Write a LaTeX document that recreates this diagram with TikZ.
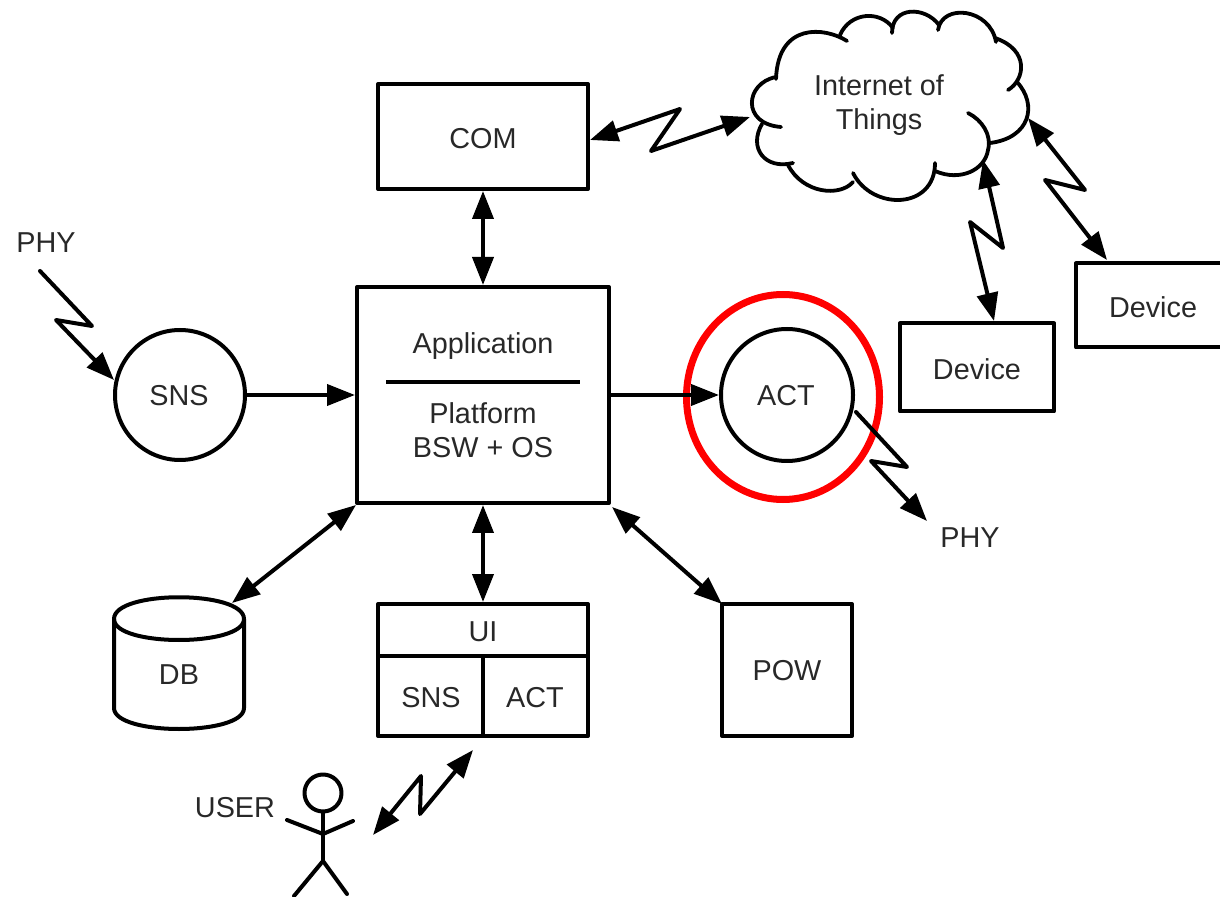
\documentclass[tikz,border=0pt]{standalone}
\usepackage{fontspec}
\setmainfont{Liberation Sans}
\usetikzlibrary{arrows.meta,shapes.geometric}
\definecolor{txt}{RGB}{40,40,40}
\tikzset{
  x=0.5pt,y=-0.5pt,
  ln/.style={line width=2pt,line join=round,line cap=round},
  bx/.style={draw,ln,line cap=butt,minimum width=0pt,inner sep=0pt},
  lab/.style={font=\fontsize{14.4pt}{17pt}\selectfont,text=txt,align=center,inner sep=0pt},
  both/.style={ln,{Triangle[length=14pt,width=10.5pt]}-{Triangle[length=14pt,width=10.5pt]}},
  one/.style={ln,-{Triangle[length=14pt,width=10.5pt]}},
  cloudln/.style={line width=1.9pt,line cap=round}
}
\begin{document}
\begin{tikzpicture}
\useasboundingbox (0,0) rectangle (1220,897);
% boxes
\node[bx,minimum width=105pt,minimum height=52.5pt] (com) at (483,136.5) {};
\node[lab] at (483,139) {COM};
\node[bx,minimum width=126pt,minimum height=108pt] (app) at (483,395) {};
\node[lab] at (483,346.5) {Application};
\node[lab] at (483,430) {Platform\\BSW + OS};
\coordinate (barL) at (386,382); \coordinate (barR) at (580,382);
\draw[ln,line cap=butt] (barL) -- (barR);
\node[bx,circle,minimum size=65pt] (sns) at (180,395) {};
\node[lab] at (179,396) {SNS};
\node[bx,circle,minimum size=66pt] (act) at (787,395) {};
\node[lab] at (786,396) {ACT};
\node[draw=red,line width=3.5pt,ellipse,minimum width=96.5pt,minimum height=102.5pt,inner sep=0pt] (ring) at (783,397) {};
\node[bx,minimum width=77pt,minimum height=44pt] (dev1) at (977,367.5) {};
\node[lab] at (977,369) {Device};
\node[bx,minimum width=77pt,minimum height=42pt] (dev2) at (1153,305.5) {};
\node[lab] at (1153,307) {Device};
\node[bx,minimum width=65pt,minimum height=66pt] (pow) at (787,670) {};
\node[lab] at (787,671) {POW};
\node[bx,minimum width=105pt,minimum height=66pt] (ui) at (483,670) {};
\coordinate (uiL) at (378,656); \coordinate (uiR) at (588,656);
\coordinate (uiM) at (483,656); \coordinate (uiB) at (483,736);
\draw[ln,line cap=butt] (uiL) -- (uiR);
\draw[ln,line cap=butt] (uiM) -- (uiB);
\node[lab] at (483,632) {UI};
\node[lab] at (431,698) {SNS};
\node[lab] at (535,698) {ACT};
% database
\draw[ln] (114,619) .. controls (114,590) and (244,590) .. (244,619) -- (244,708) .. controls (244,736) and (114,736) .. (114,708) -- cycle;
\draw[ln] (114,619) .. controls (114,647) and (244,647) .. (244,619);
\node[lab] (dbl) at (179,675) {DB};
% cloud
\node[lab] (iot) at (879,105) {Internet of\\Things};
\draw[cloudln] (847,41) .. controls (825,27) and (778,22) .. (776,79);
\draw[cloudln] (776,77) .. controls (745,83) and (741,124) .. (781,127);
\draw[cloudln] (762,124) .. controls (748,148) and (765,170) .. (793,163);
\draw[cloudln] (788,165) .. controls (803,194) and (840,197) .. (853,182);
\draw[cloudln] (853,173) .. controls (872,211) and (935,210) .. (935,163);
\draw[cloudln] (935,171) .. controls (960,182) and (985,170) .. (988,150) .. controls (992,135) and (982,120) .. (968,113);
\draw[cloudln] (990,143) .. controls (1030,138) and (1038,105) .. (1017,82);
\draw[cloudln] (1008,90) .. controls (1025,80) and (1030,50) .. (995,38);
\draw[cloudln] (996,42) .. controls (990,8) and (942,3) .. (938,30);
\draw[cloudln] (939,25) .. controls (925,6) and (892,6) .. (892,33);
\draw[cloudln] (893,28) .. controls (880,10) and (850,12) .. (840,35);
% connectors with zigzags
\coordinate (a1) at (590,140); \coordinate (a2) at (680,109); \coordinate (a3) at (651,151); \coordinate (a4) at (750,117);
\draw[both] (a1) -- (a2) -- (a3) -- (a4);
\draw[both] (com.south) -- (app.north);
\draw[one] (sns.east) -- (app.west);
\draw[ln,line cap=butt,-{Triangle[length=14pt,width=10.5pt]}] (app.east) -- (act.west);
\coordinate (p1) at (40,271); \coordinate (p2) at (92,326); \coordinate (p3) at (56,320);
\coordinate (p4) at (114,380);
\draw[one] (p1) -- (p2) -- (p3) -- (p4);
\coordinate (q1) at (856,412); \coordinate (q2) at (907,467); \coordinate (q3) at (871,461); \coordinate (q4) at (927,521);
\draw[one] (q1) -- (q2) -- (q3) -- (q4);
\coordinate (r1) at (983,160); \coordinate (r2) at (1003,248); \coordinate (r3) at (970,222); \coordinate (r4) at (994,321);
\draw[both] (r1) -- (r2) -- (r3) -- (r4);
\coordinate (s1) at (1028,118); \coordinate (s2) at (1085,190); \coordinate (s3) at (1045,180); \coordinate (s4) at (1107,260);
\draw[both] (s1) -- (s2) -- (s3) -- (s4);
\coordinate (u1) at (373,835); \coordinate (u2) at (421,776); \coordinate (u3) at (420,814); \coordinate (u4) at (473,750);
\draw[both] (u1) -- (u2) -- (u3) -- (u4);
\coordinate (dbtop) at (232,603); \coordinate (appbl) at (356,505);
\draw[both] (dbtop) -- (appbl);
\draw[both] (app.south) -- (ui.north);
\coordinate (powtl) at (722,604); \coordinate (appbr) at (612,507);
\draw[both] (powtl) -- (appbr);
% labels
\node[lab] at (46,243) {PHY};
\node[lab] at (970,538) {PHY};
\node[lab] at (235,808) {USER};
% user
\node[draw,ln,circle,minimum size=18.5pt,inner sep=0pt] (head) at (323,793) {};
\coordinate (hip) at (323,861); \coordinate (armL) at (287,820); \coordinate (armR) at (353,821);
\coordinate (neck) at (323,834); \coordinate (legL) at (294,896); \coordinate (legR) at (347,894);
\draw[ln] (head.south) -- (hip);
\draw[ln] (armL) -- (neck) -- (armR);
\draw[ln] (legL) -- (hip) -- (legR);
\end{tikzpicture}
\end{document}
